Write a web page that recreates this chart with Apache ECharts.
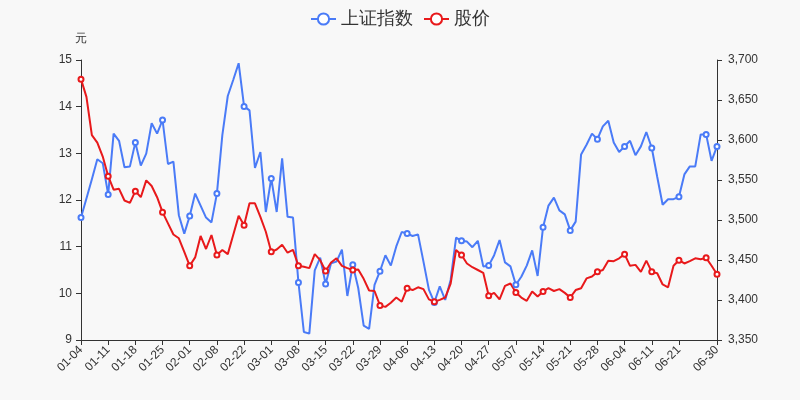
<!DOCTYPE html>
<html>
<head>
<meta charset="utf-8">
<script src="https://cdn.jsdelivr.net/npm/echarts@6/dist/echarts.min.js"></script>
<style>html,body{margin:0;padding:0;background:#f8f8f8;}#c{width:800px;height:400px;}</style>
</head>
<body>
<div id="c"></div>
<script>
var dates = ['01-04','01-05','01-06','01-07','01-08','01-11','01-12','01-13','01-14','01-15','01-18','01-19','01-20','01-21','01-22','01-25','01-26','01-27','01-28','01-29',
'02-01','02-02','02-03','02-04','02-05','02-08','02-09','02-10','02-18','02-19','02-22','02-23','02-24','02-25','02-26',
'03-01','03-02','03-03','03-04','03-05','03-08','03-09','03-10','03-11','03-12','03-15','03-16','03-17','03-18','03-19','03-22','03-23','03-24','03-25','03-26','03-29','03-30','03-31',
'04-01','04-02','04-06','04-07','04-08','04-09','04-12','04-13','04-14','04-15','04-16','04-19','04-20','04-21','04-22','04-23','04-26','04-27','04-28','04-29','04-30',
'05-06','05-07','05-10','05-11','05-12','05-13','05-14','05-17','05-18','05-19','05-20','05-21','05-24','05-25','05-26','05-27','05-28','05-31',
'06-01','06-02','06-03','06-04','06-07','06-08','06-09','06-10','06-11','06-15','06-16','06-17','06-18','06-21','06-22','06-23','06-24','06-25','06-28','06-29','06-30'];

var shIndex = [3503,3527,3551,3576,3571,3532,3608,3599,3566,3567,
3597,3568,3583,3621,3608,3625,3570,3573,3506,3483,
3505,3533,3518,3503,3497,3533,3606,3655,3675,3696,
3642,3637,3565,3585,3510,3552,3510,3577,3504,3503,
3422,3360,3358,3437,3453,3420,3446,3448,3463,3405,
3444,3415,3368,3364,3419,3436,3456,3443,3467,3485,
3483,3480,3482,3448,3413,3397,3417,3400,3425,3478,
3474,3473,3466,3474,3442,3443,3456,3475,3447,3442,
3419,3429,3443,3462,3430,3491,3518,3528,3512,3507,
3487,3498,3582,3594,3608,3601,3617,3624,3597,3585,
3592,3599,3581,3592,3610,3590,3554,3519,3526,3526,
3529,3557,3567,3567,3607,3607,3574,3592];

var price = [14.59,14.21,13.39,13.23,12.93,12.51,12.22,12.24,11.99,11.94,
12.19,12.06,12.42,12.30,12.06,11.74,11.50,11.26,11.18,10.89,
10.59,10.77,11.23,10.95,11.25,10.82,10.93,10.84,11.25,11.66,
11.46,11.93,11.93,11.64,11.32,10.89,10.94,11.04,10.87,10.93,
10.59,10.57,10.54,10.84,10.71,10.48,10.66,10.75,10.59,10.54,
10.50,10.51,10.31,10.06,10.05,9.74,9.71,9.80,9.91,9.82,
10.11,10.07,10.13,10.09,9.87,9.82,9.86,9.91,10.21,10.93,
10.82,10.64,10.56,10.50,10.44,9.95,10.01,9.87,10.16,10.21,
10.02,9.91,9.84,10.04,9.93,10.04,10.11,10.05,10.09,10.01,
9.91,10.07,10.11,10.32,10.36,10.46,10.50,10.70,10.69,10.75,
10.84,10.59,10.61,10.46,10.70,10.46,10.43,10.19,10.13,10.59,
10.71,10.64,10.69,10.75,10.73,10.76,10.59,10.41];

var seriesNames = ['上证指数','股价'];
var colors = ['#4a7bf7','#e8191b'];

var chart = echarts.init(document.getElementById('c'), null, {renderer:'canvas'});
chart.setOption({
  backgroundColor: '#f8f8f8',
  animation: false,
  color: colors,
  legend: {
    top: 5,
    left: 'center',
    itemWidth: 25,
    itemHeight: 14,
    itemGap: 10,
    textStyle: {fontSize: 18, color: '#333'},
    data: seriesNames
  },
  grid: {left: 81, right: 83, top: 60, bottom: 60},
  xAxis: {
    type: 'category',
    boundaryGap: false,
    data: dates,
    axisLine: {lineStyle: {color: '#333'}},
    axisTick: {alignWithLabel: true},
    axisLabel: {rotate: 45, fontSize: 12, color: '#333', interval: 4, showMaxLabel: true}
  },
  yAxis: [{
    type: 'value',
    name: '元',
    nameGap: 15,
    nameTextStyle: {color: '#333', fontSize: 12, align: 'center'},
    min: 9, max: 15, interval: 1,
    splitLine: {show: false},
    axisLine: {show: true, lineStyle: {color: '#333'}},
    axisTick: {show: true},
    axisLabel: {fontSize: 12, color: '#333', margin: 9}
  }, {
    type: 'value',
    min: 3350, max: 3700, interval: 50,
    splitLine: {show: false},
    axisLine: {show: true, lineStyle: {color: '#333'}},
    axisTick: {show: true},
    axisLabel: {fontSize: 12, color: '#333', margin: 11}
  }],
  series: [{
    name: seriesNames[0],
    type: 'line',
    yAxisIndex: 1,
    data: shIndex,
    symbol: 'emptyCircle',
    symbolSize: 5,
    itemStyle: {borderWidth: 1},
    lineStyle: {width: 2}
  }, {
    name: seriesNames[1],
    type: 'line',
    yAxisIndex: 0,
    data: price,
    symbol: 'emptyCircle',
    symbolSize: 5,
    itemStyle: {borderWidth: 1},
    lineStyle: {width: 2}
  }]
});
</script>
</body>
</html>
